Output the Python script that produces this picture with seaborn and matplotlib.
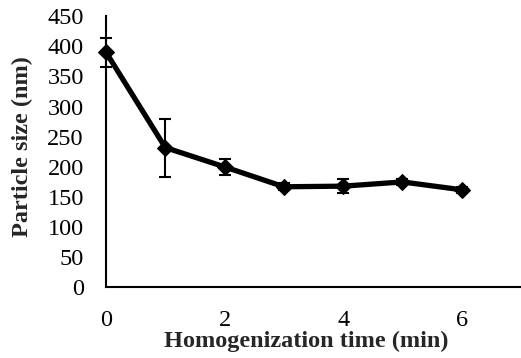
import matplotlib
matplotlib.use("Agg")
import matplotlib.pyplot as plt
import seaborn as sns
import pandas as pd

time_min = [0, 1, 2, 3, 4, 5, 6]
particle_size = [390, 232, 200, 167, 168, 175, 162]
size_error = [24, 48, 13, 6, 12, 5, 5]
x_ticks = [0, 2, 4, 6]
y_ticks = [0, 50, 100, 150, 200, 250, 300, 350, 400, 450]

df = pd.DataFrame({"time": time_min, "size": particle_size, "err": size_error})

sns.set_style("white")
plt.rcParams["font.family"] = ["Liberation Serif", "DejaVu Serif"]

fig = plt.figure(figsize=(5.21, 3.58), dpi=100)
ax = fig.add_axes([0.2035, 0.197, 0.7965, 0.758])

eb = ax.errorbar(df["time"], df["size"], yerr=df["err"], fmt="none",
                 ecolor="black", elinewidth=1.5, capsize=4, capthick=1.5, zorder=2)
for art in eb.lines[1] + eb.lines[2]:
    art.set_clip_on(False)
sns.lineplot(data=df, x="time", y="size", ax=ax, color="black",
             linewidth=3.8, marker="D", markersize=8.5, markeredgecolor="black",
             zorder=3, clip_on=False)

ax.set_xlim(0, 7)
ax.set_ylim(0, 450)
ax.set_xticks(x_ticks)
ax.set_yticks(y_ticks)
ax.tick_params(axis="both", direction="in", length=5, width=1.5,
               labelsize=17.5, colors="black")
ax.tick_params(axis="x", pad=16)
ax.tick_params(axis="y", pad=16)
for s in ["top", "right"]:
    ax.spines[s].set_visible(False)
for s in ["left", "bottom"]:
    ax.spines[s].set_linewidth(1.5)
    ax.spines[s].set_color("black")

ax.set_xlabel("Homogenization time (min)", fontsize=17.5, fontweight="bold")
ax.set_ylabel("Particle size (nm)", fontsize=17.5, fontweight="bold")
ax.xaxis.set_label_coords(0.482, -0.158)
ax.yaxis.set_label_coords(-0.176, 0.52)

fig.savefig("out.png", dpi=100)
